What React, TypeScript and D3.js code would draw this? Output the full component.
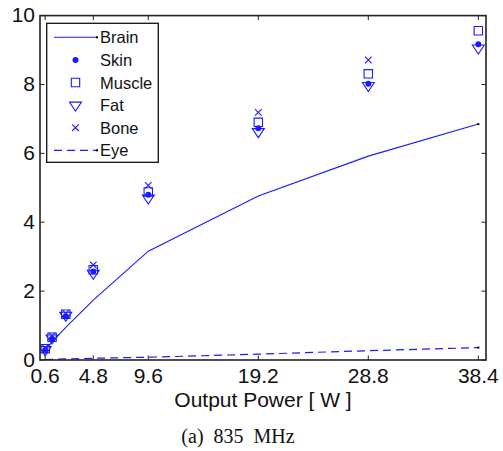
import React from "react";
import * as d3 from "d3";

const powers = [0.6, 1.2, 2.4, 4.8, 9.6, 19.2, 28.8, 38.4];
const brain = [0.3, 0.52, 0.95, 1.74, 3.16, 4.76, 5.92, 6.85];
const skin = [0.28, 0.62, 1.27, 2.57, 4.8, 6.73, 8.02, 9.17];
const muscle = [0.33, 0.66, 1.33, 2.62, 4.88, 6.9, 8.31, 9.56];
const fat = [0.3, 0.64, 1.3, 2.52, 4.7, 6.63, 7.97, 9.06];
const bone = [0.36, 0.7, 1.35, 2.76, 5.07, 7.19, 8.71, 10.3];
const eye = [0.01, 0.02, 0.03, 0.05, 0.08, 0.17, 0.27, 0.36];
const xTicks = [0.6, 4.8, 9.6, 19.2, 28.8, 38.4];
const yTicks = [0, 2, 4, 6, 8, 10];
const legendLabels = ["Brain", "Skin", "Muscle", "Fat", "Bone", "Eye"];
const caption = "(a)  835  MHz";
const xLabel = "Output Power [ W ]";

const BLUE = "#1a1aff";
const W = 503, H = 451;
const L = 40, R = 486, T = 15.6, B = 360;

export default function App() {
  const x = d3.scaleLinear().domain([0.15, 39.07]).range([L, R]);
  const y = d3.scaleLinear().domain([0, 10]).range([B, T]);
  const line = d3.line<number>().x((_, i) => x(powers[i])).y((d) => y(d));
  const font = "'Liberation Sans', Arial, sans-serif";

  const tri = (cx: number, cy: number) => {
    const w = 6, h = 9;
    return `M${cx - w},${cy - h / 3}L${cx + w},${cy - h / 3}L${cx},${cy + (2 * h) / 3}Z`;
  };
  const sq = (cx: number, cy: number) => {
    const s = 4.2;
    return `M${cx - s},${cy - s}L${cx + s},${cy - s}L${cx + s},${cy + s}L${cx - s},${cy + s}Z`;
  };
  const cross = (cx: number, cy: number) => {
    const s = 3.3;
    return `M${cx - s},${cy - s}L${cx + s},${cy + s}M${cx - s},${cy + s}L${cx + s},${cy - s}`;
  };

  const legX0 = 46.7, legY0 = 23.3, legW = 111.6, legH = 139;
  const rowY = (i: number) => 37.3 + i * 22.6;

  return (
    <svg width={W} height={H} style={{ position: "absolute", left: 0, top: 0, background: "#fff" }}>
      <defs>
        <clipPath id="plotclip">
          <rect x={L} y={T} width={R - L} height={B - T} />
        </clipPath>
      </defs>
      <rect x={0} y={0} width={W} height={H} fill="#fff" />
      <g clipPath="url(#plotclip)">
        <path d={line(brain) || ""} fill="none" stroke={BLUE} strokeWidth={1.1} />
        <path d={line(eye) || ""} fill="none" stroke={BLUE} strokeWidth={1.2} strokeDasharray="8,5" />
        {powers.map((p, i) => (
          <g key={"m" + i}>
            <path d={tri(x(p), y(fat[i]))} fill="none" stroke={BLUE} strokeWidth={1.1} />
            <path d={sq(x(p), y(muscle[i]))} fill="none" stroke={BLUE} strokeWidth={1.1} />
            <path d={cross(x(p), y(bone[i]))} fill="none" stroke={BLUE} strokeWidth={1.1} />
            <circle cx={x(p)} cy={y(skin[i])} r={3} fill={BLUE} />
          </g>
        ))}
        <rect x={x(38.4) - 1} y={y(brain[7]) - 1} width={2} height={2} fill="#000" />
        <rect x={x(38.4) - 1} y={y(eye[7]) - 1} width={2} height={2} fill="#000" />
      </g>
      {xTicks.map((t) => (
        <g key={"xt" + t}>
          <line x1={x(t)} x2={x(t)} y1={B} y2={B - 4.5} stroke="#222" strokeWidth={1} />
          <line x1={x(t)} x2={x(t)} y1={T} y2={T + 4.5} stroke="#222" strokeWidth={1} />
          <text x={x(t)} y={383} textAnchor="middle" fontFamily={font} fontSize={21} fill="#111">
            {t}
          </text>
        </g>
      ))}
      {yTicks.map((t) => (
        <g key={"yt" + t}>
          <line x1={L} x2={L + 4.5} y1={y(t)} y2={y(t)} stroke="#222" strokeWidth={1} />
          <line x1={R} x2={R - 4.5} y1={y(t)} y2={y(t)} stroke="#222" strokeWidth={1} />
          <text x={35} y={y(t) + 6.5} textAnchor="end" fontFamily={font} fontSize={21} fill="#111">
            {t}
          </text>
        </g>
      ))}
      <rect x={L} y={T} width={R - L} height={B - T} fill="none" stroke="#222" strokeWidth={1.6} />
      <rect x={legX0} y={legY0} width={legW} height={legH} fill="#fff" stroke="#111" strokeWidth={1.3} />
      {legendLabels.map((lab, i) => {
        const cy = rowY(i);
        const mx = 75.5;
        let mark: React.ReactNode = null;
        if (i === 0) mark = <line x1={54} x2={96.5} y1={cy} y2={cy} stroke={BLUE} strokeWidth={1.1} />;
        if (i === 5) mark = <line x1={54} x2={96.5} y1={cy} y2={cy} stroke={BLUE} strokeWidth={1.2} strokeDasharray="8,5" />;
        if (i === 1) mark = <circle cx={mx} cy={cy} r={3} fill={BLUE} />;
        if (i === 2) mark = <path d={sq(mx, cy)} fill="none" stroke={BLUE} strokeWidth={1.1} />;
        if (i === 3) mark = <path d={tri(mx, cy)} fill="none" stroke={BLUE} strokeWidth={1.1} />;
        if (i === 4) mark = <path d={cross(mx, cy)} fill="none" stroke={BLUE} strokeWidth={1.1} />;
        return (
          <g key={lab}>
            {mark}
            {(i === 0 || i === 5) && <rect x={96} y={cy - 1} width={2} height={2} fill="#000" />}
            <text x={100} y={cy + 6} fontFamily={font} fontSize={16.5} fill="#111">
              {lab}
            </text>
          </g>
        );
      })}
      <text x={(L + R) / 2} y={407} textAnchor="middle" fontFamily={font} fontSize={21} fill="#111">
        {xLabel}
      </text>
      <text x={238} y={443} textAnchor="middle" fontFamily="'Liberation Serif', 'Times New Roman', serif" fontSize={20} fill="#111" style={{ whiteSpace: "pre" }}>
        {caption}
      </text>
    </svg>
  );
}
